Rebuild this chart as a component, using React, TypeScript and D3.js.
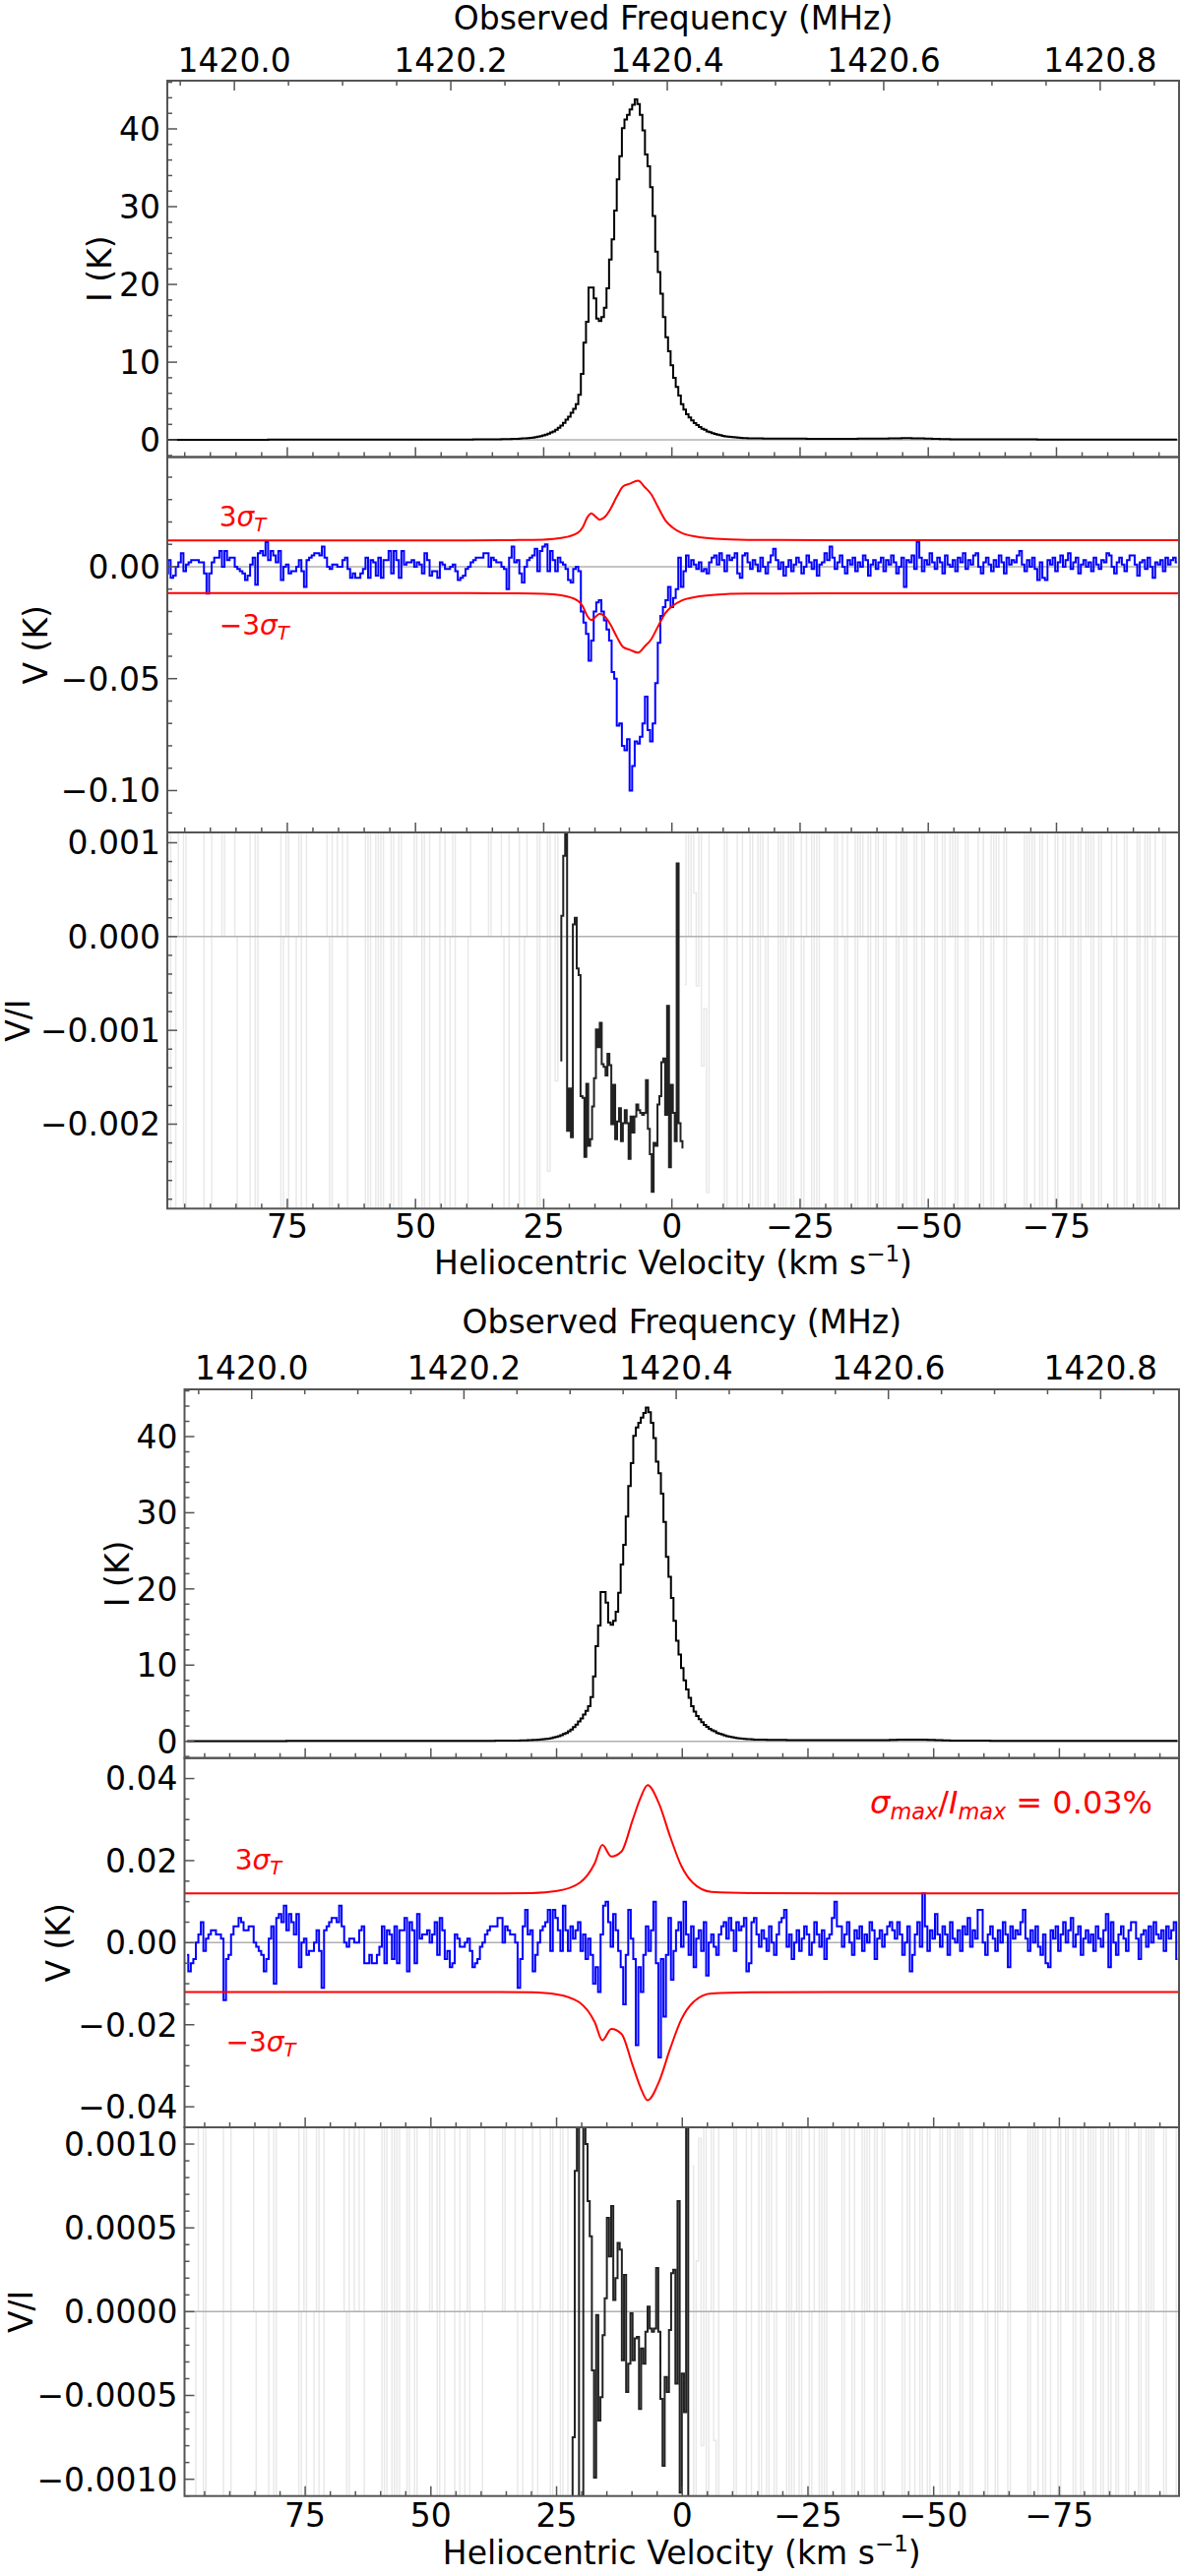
import React from 'react';
import * as d3 from 'd3';

const FONT = '"DejaVu Sans", "Liberation Sans", sans-serif';
const KM_S_PER_MHZ = 211.06; // c / f(HI)

// * Spectral channels (heliocentric velocity, km/s)
const channelStart = 98.5;
const channelWidth = 0.5;

// Stokes I (K) per channel, shared by both observations
const intensity = [
  0.03, 0.03, 0.03, 0.03, 0.03, 0.03, 0.03, 0.03, 0.03, 0.03, 0.03, 0.03, 0.03, 0.03, 0.03, 0.03, 0.03, 0.03, 0.03, 0.03,
  0.03, 0.03, 0.03, 0.03, 0.03, 0.03, 0.03, 0.03, 0.03, 0.03, 0.03, 0.03, 0.03, 0.03, 0.03, 0.03, 0.03, 0.03, 0.03, 0.03,
  0.04, 0.04, 0.04, 0.04, 0.04, 0.04, 0.04, 0.04, 0.04, 0.04, 0.04, 0.04, 0.04, 0.04, 0.04, 0.04, 0.04, 0.04, 0.04, 0.04,
  0.04, 0.04, 0.04, 0.04, 0.04, 0.04, 0.04, 0.04, 0.04, 0.04, 0.04, 0.04, 0.04, 0.04, 0.04, 0.04, 0.04, 0.04, 0.04, 0.04,
  0.05, 0.05, 0.05, 0.05, 0.05, 0.05, 0.05, 0.05, 0.05, 0.05, 0.05, 0.05, 0.05, 0.05, 0.05, 0.05, 0.05, 0.05, 0.05, 0.05,
  0.05, 0.05, 0.05, 0.05, 0.05, 0.05, 0.05, 0.05, 0.05, 0.05, 0.06, 0.06, 0.06, 0.06, 0.06, 0.06, 0.06, 0.06, 0.06, 0.06,
  0.07, 0.07, 0.07, 0.08, 0.08, 0.08, 0.08, 0.08, 0.08, 0.09, 0.09, 0.1, 0.1, 0.11, 0.12, 0.13, 0.14, 0.15, 0.17, 0.19,
  0.21, 0.24, 0.27, 0.31, 0.36, 0.42, 0.5, 0.58, 0.68, 0.8, 0.95, 1.1, 1.3, 1.55, 1.85, 2.2, 2.6, 3.0, 3.5, 4.0,
  4.6, 5.8, 8.5, 12.5, 15.2, 19.6, 19.6, 18.2, 15.6, 15.3, 15.8, 17.0, 19.5, 23.2, 25.8, 29.5, 33.5, 36.5, 40.1, 41.2,
  41.8, 42.5, 43.1, 43.8, 43.2, 41.8, 39.8, 36.7, 35.2, 32.5, 28.8, 24.2, 21.6, 18.8, 15.8, 13.2, 11.4, 9.6, 8.0, 6.8,
  5.7, 4.6, 3.9, 3.3, 2.9, 2.5, 2.15, 1.9, 1.65, 1.45, 1.3, 1.1, 1.0, 0.88, 0.78, 0.68, 0.6, 0.53, 0.47, 0.42,
  0.38, 0.35, 0.32, 0.29, 0.27, 0.25, 0.23, 0.22, 0.21, 0.2, 0.2, 0.19, 0.19, 0.18, 0.18, 0.18, 0.17, 0.17, 0.17, 0.16,
  0.16, 0.16, 0.16, 0.16, 0.16, 0.16, 0.16, 0.16, 0.16, 0.16, 0.15, 0.15, 0.15, 0.15, 0.15, 0.15, 0.15, 0.15, 0.15, 0.15,
  0.15, 0.15, 0.15, 0.15, 0.15, 0.15, 0.15, 0.15, 0.15, 0.15, 0.16, 0.16, 0.16, 0.16, 0.16, 0.16, 0.16, 0.16, 0.16, 0.16,
  0.17, 0.18, 0.19, 0.2, 0.21, 0.22, 0.22, 0.23, 0.23, 0.23, 0.23, 0.22, 0.22, 0.21, 0.2, 0.19, 0.18, 0.17, 0.16, 0.15,
  0.14, 0.13, 0.12, 0.11, 0.1, 0.1, 0.09, 0.09, 0.08, 0.08, 0.08, 0.08, 0.08, 0.08, 0.08, 0.08, 0.08, 0.08, 0.08, 0.08,
  0.07, 0.07, 0.07, 0.07, 0.07, 0.07, 0.07, 0.07, 0.07, 0.07, 0.07, 0.07, 0.07, 0.07, 0.07, 0.07, 0.07, 0.07, 0.07, 0.07,
  0.06, 0.06, 0.06, 0.06, 0.06, 0.06, 0.06, 0.06, 0.06, 0.06, 0.06, 0.06, 0.06, 0.06, 0.06, 0.06, 0.06, 0.06, 0.06, 0.06,
  0.05, 0.05, 0.05, 0.05, 0.05, 0.05, 0.05, 0.05, 0.05, 0.05, 0.05, 0.05, 0.05, 0.05, 0.05, 0.05, 0.05, 0.05, 0.05, 0.05,
  0.05, 0.05, 0.05, 0.05, 0.05, 0.05, 0.05, 0.05, 0.05, 0.05, 0.05, 0.05, 0.05, 0.05, 0.05,
];

// Stokes V (mK) per channel, upper observation
const stokesVTop = [
  -3, 3, -5, -4, 0, 2, 6, -2, 1, 2, 3, 3, 3, 2, 2, -3, -12, -3, 2, 4,
  4, 7, 0, 7, 3, 4, 4, 0, -1, -2, -3, -6, -4, 1, 4, -8, 6, 7, 5, 11,
  3, 7, 5, 2, 7, -6, 0, 1, -3, -2, -2, 0, 3, -2, -9, 3, 4, 5, 6, 6,
  5, 9, 4, 0, -1, 1, 1, 0, 0, 3, 4, -1, -5, -3, -5, -5, -3, -1, 4, -5,
  3, 2, -4, 4, -5, 3, 3, 7, -3, 7, 3, -5, 7, 1, 2, 2, 3, 0, 2, 1,
  -3, 6, 3, -4, -2, -2, -5, 2, 1, -1, -1, 0, 1, -2, -6, -5, -4, -1, 0, 2,
  3, 4, 4, 4, 6, 6, 0, 4, 3, 2, 2, 0, -1, -10, 4, 9, 2, 3, -3, -7,
  0, 3, 4, 5, 8, -2, 7, 9, 10, -2, 7, 3, -2, 4, 2, 1, -1, -6, -7, -1,
  0, -2, -20, -25, -30, -42, -33, -20, -16, -15, -20, -24, -28, -33, -47, -50, -71, -70, -80, -82,
  -77, -100, -89, -78, -79, -76, -70, -58, -73, -78, -70, -52, -34, -22, -18, -15, -9, -18, -14, -10,
  4, -9, -2, 5, 0, 3, 1, -1, 2, -2, -1, -3, 2, 4, 5, 1, 6, 3, -2, 5,
  3, 4, 6, -3, -5, 5, 6, 2, -1, 3, 1, -2, 4, 0, -3, 2, 5, 8, 3, -1,
  2, -4, 0, 3, -2, 1, 4, 2, -3, 0, 5, 2, -1, 3, -4, 1, 2, 6, 3, 9,
  4, -1, 2, 5, 0, -3, 3, 1, 4, -2, 2, 0, 5, 3, -4, 1, 3, -1, 2, 4,
  -2, 3, 1, 5, 2, -3, 0, 4, -9, 3, 2, 5, -1, 11, 4, -2, 3, 1, 6, 2,
  -1, 4, 2, -3, 5, 1, 0, 3, -2, 4, 2, 6, -1, 3, 1, 5, 6, 0, -3, 2,
  4, 1, -2, 3, 0, 5, 2, -3, 4, 1, 3, 2, 5, 7, 1, -2, 3, 0, 4, -1,
  -6, 2, -5, -6, 3, 1, 4, -2, 2, 5, 0, 3, 6, -1, 2, 4, -3, 1, 3, 0,
  2, -2, 4, 1, -1, 3, 2, 6, 5, 0, -3, 2, 4, 1, -2, 3, 5, 5, 1, -4,
  2, 3, -1, 4, 0, -5, 2, 1, 3, -2, 4, 1, 3, 4, 2,
];

// Stokes V (mK) per channel, lower observation
const stokesVBottom = [
  -3, -7, -5, -4, 0, 2, 5, -2, 1, 2, 3, 3, 2, 2, 1, -14, -4, -3, 2, 4,
  4, 6, 5, 3, 3, 4, 4, 0, -1, -2, -3, -7, -4, 1, 4, -10, 6, 7, 5, 9,
  3, 7, 5, 2, 7, -6, 0, 1, -3, -2, -2, 0, 3, -2, -11, 3, 4, 5, 6, 6,
  5, 9, 4, 0, -1, 1, 1, 0, 0, 3, 4, -5, -5, -3, -5, -5, -3, -1, 4, -5,
  3, 2, -4, 4, -5, 3, 3, 6, -7, 5, 3, -5, 7, 1, 2, 2, 3, 0, 2, 5,
  -3, 6, 3, -4, -2, -6, -5, 2, 1, -1, -1, 0, 1, -2, -6, -5, -4, -1, 0, 2,
  3, 4, 4, 4, 6, 6, 0, 4, 3, 2, 2, 0, -11, -4, 4, 8, 2, 3, -7, -3,
  0, 3, 4, 5, 8, -2, 8, 6, 3, -2, 9, 3, -2, 4, 1, 3, 5, -2, 2, -4,
  1, -3, -10, -6, -12, 2, 9, 10, 5, -1, 7, 3, -2, -6, -15, -3, 8, 1, -4, -25,
  -6, -12, -3, 4, -2, 3, 10, -5, -28, -4, -18, -3, 6, -9, -2, 3, 5, -1, 10, 2,
  -3, 4, -6, 1, 3, -2, 5, -8, 0, 2, -1, -3, 2, 4, 5, 1, 6, 3, -2, 5,
  3, 4, 6, -7, -5, 5, 6, 2, -1, 3, 1, -2, 4, 0, -3, 2, 5, 6, 8, -1,
  2, -4, 0, 3, -2, 1, 4, 2, -3, 0, 5, 2, -1, 3, -4, 1, 2, 6, 10, 4,
  4, -1, 2, 5, 0, -3, 3, 1, 4, -2, 2, 0, 5, 3, -4, 1, 3, -1, 2, 4,
  5, 3, 1, 5, 2, -3, 0, 4, -7, -3, 2, 5, -1, 12, 4, -2, 3, 1, 7, 2,
  -1, 4, 2, -3, 5, 1, 0, 3, -2, 4, 2, 6, -1, 3, 1, 8, 8, 0, -3, 2,
  4, 1, -2, 3, 0, 5, 2, -6, 4, 1, 3, 2, 5, 8, 1, -2, 3, 0, 4, -1,
  -3, 2, -5, -6, 3, 1, 4, -2, 2, 5, 0, 3, 6, -1, 2, 4, -3, 1, 3, 0,
  2, -2, 4, 1, -1, 3, 7, -6, 5, 0, -3, 2, 4, 1, -2, 3, 5, 5, 1, -4,
  2, 3, -1, 4, 0, 5, 2, 1, 3, -2, 4, 1, 3, 5, -4,
];

// 3 sigma_T envelope (K), read at these velocities
const sigmaTopVelocity = [98.4, 60, 40, 31.2, 25, 21.6, 18.4, 17.4, 16.5, 15.7, 14.7, 14.1, 13.0, 12.0, 10.7, 9.5, 8.2, 6.6, 5.3, 4.0, 2.8, 1.2, -0.1, -2.0, -4.6, -8.4, -14.8, -30, -60, -98.9];
const sigmaTopValue = [0.0118, 0.0118, 0.0118, 0.0119, 0.0121, 0.0128, 0.0151, 0.0176, 0.022, 0.0238, 0.022, 0.021, 0.0224, 0.0257, 0.0315, 0.0359, 0.0371, 0.0384, 0.0356, 0.0323, 0.0271, 0.0205, 0.0176, 0.015, 0.0135, 0.0125, 0.012, 0.0119, 0.0119, 0.0119];
const sigmaBottomVelocity = [99, 60, 40, 30, 24.9, 20.4, 17.4, 15.9, 14.1, 12.1, 9.9, 8.4, 6.9, 4.6, 2.4, 0.15, -2.1, -5.8, -14.1, -30, -60, -98.8];
const sigmaBottomValue = [0.012, 0.012, 0.012, 0.0121, 0.0126, 0.0146, 0.0194, 0.0238, 0.021, 0.0222, 0.0298, 0.035, 0.0384, 0.0338, 0.0258, 0.0186, 0.0146, 0.0124, 0.0121, 0.012, 0.012, 0.012];

// V/I over the line (units of 1e-4), own channel grid
const ratioTopStart = 21.75;
const ratioTopWidth = 0.375;
const ratioTop = [
  -13.2, 2.2, 8.6, 20, -20.7, -16.2, -21.4, 1.3, 2.0, -3.4, -4.1, -17.0, -17.2, -23.5, -15.7, -22.3, -21.6, -18.1, -15.1, -9.9,
  -11.8, -9.2, -13.6, -13.9, -14.8, -12.5, -13.7, -20.0, -15.8, -21.6, -19.7, -18.3, -21.8, -19.9, -18.5, -19.9, -23.7, -19.2, -20.9, -19.2,
  -17.9, -18.5, -18.8, -19.0, -18.8, -15.3, -20.5, -23.2, -27.2, -22.0, -22.3, -17.9, -17.0, -13.4, -13.0, -19.0, -7.4, -24.6, -15.8, -18.8,
  -21.8, 7.8, -19.9, -21.8, -22.5,
];
const ratioBottomStart = 22.03;
const ratioBottomWidth = 0.426;
const ratioBottom = [
  -20, -7.5, 8.4, 20, -20, -20, 20, 10, 6.6, 4.5, -3.5, -9.9, -0.2, -6.5, -5.1, -1.4, 0.8, 5.6, 3.3, 6.3,
  0.7, 2.0, 4.1, 3.7, -2.9, 2.2, -4.8, -3.1, -0.1, -2.9, -1.6, -1.5, -5.8, -2.2, -3.1, -1.2, 0.3, -1.0, -1.2, -1.0,
  2.6, -1.2, -5.2, -9.2, -3.9, -4.8, -1.1, 2.3, 2.5, -4.3, 6.6, -10.8, -3.7, -6.0, 20, -20,
];

// * Tick values
const velocityTicks = [75, 50, 25, 0, -25, -50, -75];
const frequencyTicks = [1420.0, 1420.2, 1420.4, 1420.6, 1420.8];
const intensityTicks = [0, 10, 20, 30, 40];
const stokesTicksTop = [0, -0.05, -0.1];
const ratioTicksTop = [0.001, 0, -0.001, -0.002];
const stokesTicksBottom = [0.04, 0.02, 0, -0.02, -0.04];
const ratioTicksBottom = [0.001, 0.0005, 0, -0.0005, -0.001];
const limitValue = '0.03%';

const layouts = {
  top: {
    left: 170, right: 1198,
    panels: [82, 464.5, 846, 1228.3],
    velocityDomain: [98.4, -98.9],
    freqCenter: 1420.40426,
    intensityDomain: [-2.2, 46.2],
    stokesDomain: [-0.1187, 0.049],
    ratioDomain: [-0.0029, 0.00111],
    titleY: 30, freqLabelY: 73.3, velLabelY: 1258.3, xTitleY: 1295,
    yLabelX: [101, 36, 18],
    sigmaUpper: [222.7, 535], sigmaLower: [222.7, 645],
    grayCut: [22.0, -2.5],
  },
  bottom: {
    left: 187.5, right: 1198,
    panels: [1412, 1786.7, 2162, 2536.7],
    velocityDomain: [99.0, -98.8],
    freqCenter: 1420.40575,
    intensityDomain: [-2.2, 46.2],
    stokesDomain: [-0.045, 0.045],
    ratioDomain: [-0.0011, 0.0011],
    titleY: 1355, freqLabelY: 1401.7, velLabelY: 2568, xTitleY: 2606,
    yLabelX: [119, 59, 21],
    sigmaUpper: [238.7, 1900], sigmaLower: [229.5, 2085],
    grayCut: [22.5, -2.0],
  },
};

const FRAME = '#555';
const FS = 33;

function minorTicks(domain, step, majors) {
  const lo = Math.min(domain[0], domain[1]);
  const hi = Math.max(domain[0], domain[1]);
  const out = [];
  for (let k = Math.ceil(lo / step - 1e-9); k <= Math.floor(hi / step + 1e-9); k++) {
    const t = k * step;
    if (!majors.some(m => Math.abs(m - t) < step * 1e-3)) out.push(t);
  }
  return out;
}

function SpectrumSet({ id, layout, stokesV, sigmaVelocity, sigmaValue, ratio, ratioStart, ratioWidth,
  stokesTicks, stokesMinor, stokesFormat, ratioTicks, ratioMinor, ratioFormat, showLimit }) {
  const { left, right, panels } = layout;
  const [p0, p1, p2, p3] = panels;

  const x = d3.scaleLinear().domain(layout.velocityDomain).range([left, right]);
  const yI = d3.scaleLinear().domain(layout.intensityDomain).range([p1, p0]);
  const yV = d3.scaleLinear().domain(layout.stokesDomain).range([p2, p1]);
  const yR = d3.scaleLinear().domain(layout.ratioDomain).range([p3, p2]);
  const freqX = f => x((layout.freqCenter - f) * KM_S_PER_MHZ);

  const channels = stokesV.map((_, i) => channelStart - i * channelWidth);
  const stepLine = y => d3.line().x(d => x(d[0])).y(d => y(d[1])).curve(d3.curveStep);
  const smoothLine = y => d3.line().x(d => x(d[0])).y(d => y(d[1])).curve(d3.curveMonotoneX);

  const iPath = stepLine(yI)(channels.map((v, i) => [v, intensity[i]]));
  const vPath = stepLine(yV)(channels.map((v, i) => [v, stokesV[i] * 1e-3]));
  const sigUp = smoothLine(yV)(sigmaVelocity.map((v, i) => [v, sigmaValue[i]]));
  const sigDown = smoothLine(yV)(sigmaVelocity.map((v, i) => [v, -sigmaValue[i]]));
  const ratioPath = stepLine(yR)(ratio.map((r, i) => [ratioStart - i * ratioWidth, r * 1e-4]));

  // V/I outside the line: noise divided by the faint wings, mostly off scale
  const grayAll = channels.map((v, i) => [v, (stokesV[i] * 1e-3) / intensity[i]]);
  const grayLeft = stepLine(yR)(grayAll.filter(d => d[0] >= layout.grayCut[0]));
  const grayRight = stepLine(yR)(grayAll.filter(d => d[0] <= layout.grayCut[1]));

  const velMinor = minorTicks(layout.velocityDomain, 5, velocityTicks);
  const fDomain = layout.velocityDomain.map(v => layout.freqCenter - v / KM_S_PER_MHZ);
  const freqMinor = minorTicks(fDomain, 0.05, frequencyTicks);

  const width = right - left;

  const yAxis = (scale, ticks, minorStep, fmt) => (
    <g>
      {minorTicks(scale.domain(), minorStep, ticks).map(t => (
        <line key={'m' + t} x1={left} x2={left + 5} y1={scale(t)} y2={scale(t)} stroke={FRAME} strokeWidth={1.5} />
      ))}
      {ticks.map(t => (
        <g key={t}>
          <line x1={left} x2={left + 10} y1={scale(t)} y2={scale(t)} stroke={FRAME} strokeWidth={1.5} />
          <text x={left - 7} y={scale(t)} dy="0.36em" textAnchor="end" fontSize={FS}>{fmt(t)}</text>
        </g>
      ))}
    </g>
  );

  const xTicksBottom = yBottom => (
    <g>
      {velMinor.map(t => (
        <line key={'m' + t} x1={x(t)} x2={x(t)} y1={yBottom} y2={yBottom - 5} stroke={FRAME} strokeWidth={1.5} />
      ))}
      {velocityTicks.map(t => (
        <line key={t} x1={x(t)} x2={x(t)} y1={yBottom} y2={yBottom - 10} stroke={FRAME} strokeWidth={1.5} />
      ))}
    </g>
  );

  const clipRect = (name, top, bottom) => (
    <clipPath id={`${id}-${name}`}>
      <rect x={left} y={top} width={width} height={bottom - top} />
    </clipPath>
  );

  const yLabel = (xc, yc, content) => (
    <text transform={`translate(${xc + 12},${yc}) rotate(-90)`} textAnchor="middle" fontSize={FS}>{content}</text>
  );

  return (
    <g fontFamily={FONT} fill="#000">
      <defs>
        {clipRect('i', p0, p1)}
        {clipRect('v', p1, p2)}
        {clipRect('r', p2, p3)}
      </defs>

      {/* Intensity panel */}
      <g clipPath={`url(#${id}-i)`}>
        <line x1={left} x2={right} y1={yI(0)} y2={yI(0)} stroke="#b0b0b0" strokeWidth={1.5} />
        <path d={iPath} fill="none" stroke="#000" strokeWidth={2} />
      </g>

      {/* Stokes V panel */}
      <g clipPath={`url(#${id}-v)`}>
        <line x1={left} x2={right} y1={yV(0)} y2={yV(0)} stroke="#b0b0b0" strokeWidth={1.5} />
        <path d={vPath} fill="none" stroke="#0000ff" strokeWidth={2} />
        <path d={sigUp} fill="none" stroke="#ff0000" strokeWidth={2} />
        <path d={sigDown} fill="none" stroke="#ff0000" strokeWidth={2} />
      </g>

      {/* V/I panel */}
      <g clipPath={`url(#${id}-r)`}>
        <path d={grayLeft} fill="none" stroke="#000" strokeOpacity={0.09} strokeWidth={1.5} />
        <path d={grayRight} fill="none" stroke="#000" strokeOpacity={0.09} strokeWidth={1.5} />
        <line x1={left} x2={right} y1={yR(0)} y2={yR(0)} stroke="#b0b0b0" strokeWidth={1.5} />
        <path d={ratioPath} fill="none" stroke="#222" strokeWidth={2} />
      </g>

      {/* Frames and ticks */}
      {[[p0, p1], [p1, p2], [p2, p3]].map(([t, b], k) => (
        <g key={k}>
          <rect x={left} y={t} width={width} height={b - t} fill="none" stroke={FRAME} strokeWidth={2} />
          {xTicksBottom(b)}
        </g>
      ))}
      {yAxis(yI, intensityTicks, 2, d3.format('d'))}
      {yAxis(yV, stokesTicks, stokesMinor, d3.format(stokesFormat))}
      {yAxis(yR, ratioTicks, ratioMinor, d3.format(ratioFormat))}

      {/* Frequency axis on top */}
      {freqMinor.map(f => (
        <line key={'fm' + f} x1={freqX(f)} x2={freqX(f)} y1={p0} y2={p0 + 5} stroke={FRAME} strokeWidth={1.5} />
      ))}
      {frequencyTicks.map(f => (
        <g key={'f' + f}>
          <line x1={freqX(f)} x2={freqX(f)} y1={p0} y2={p0 + 10} stroke={FRAME} strokeWidth={1.5} />
          <text x={freqX(f)} y={layout.freqLabelY} textAnchor="middle" fontSize={FS}>{d3.format('.1f')(f)}</text>
        </g>
      ))}
      <text x={(left + right) / 2} y={layout.titleY} textAnchor="middle" fontSize={FS}>Observed Frequency (MHz)</text>

      {/* Velocity axis labels */}
      {velocityTicks.map(t => (
        <text key={'vl' + t} x={x(t)} y={layout.velLabelY} textAnchor="middle" fontSize={FS}>{d3.format('d')(t)}</text>
      ))}
      <text x={(left + right) / 2} y={layout.xTitleY} textAnchor="middle" fontSize={FS}>
        Heliocentric Velocity (km s<tspan dy={-13} fontSize={23}>−1</tspan><tspan dy={13}>)</tspan>
      </text>

      {yLabel(layout.yLabelX[0], (p0 + p1) / 2, 'I (K)')}
      {yLabel(layout.yLabelX[1], (p1 + p2) / 2, 'V (K)')}
      {yLabel(layout.yLabelX[2], (p2 + p3) / 2, 'V/I')}

      {/* 3 sigma annotations */}
      <text x={layout.sigmaUpper[0]} y={layout.sigmaUpper[1]} fontSize={28} fill="#ff0000">
        3<tspan fontStyle="italic">σ</tspan><tspan fontStyle="italic" fontSize={19.6} dy={5}>T</tspan>
      </text>
      <text x={layout.sigmaLower[0]} y={layout.sigmaLower[1]} fontSize={28} fill="#ff0000">
        −3<tspan fontStyle="italic">σ</tspan><tspan fontStyle="italic" fontSize={19.6} dy={5}>T</tspan>
      </text>
      {showLimit && (
        <text x={1171} y={1843} textAnchor="end" fontSize={32} fill="#ff0000">
          <tspan fontStyle="italic">σ</tspan>
          <tspan fontStyle="italic" fontSize={22.4} dy={6}>max</tspan>
          <tspan dy={-6}>/</tspan>
          <tspan fontStyle="italic">I</tspan>
          <tspan fontStyle="italic" fontSize={22.4} dy={6}>max</tspan>
          <tspan dy={-6}>{'\u00a0= ' + limitValue}</tspan>
        </text>
      )}
    </g>
  );
}

export default function App() {
  return (
    <svg
      width={1200}
      height={2618}
      style={{ position: 'absolute', left: 0, top: 0, background: '#fff' }}
    >
      <rect x={0} y={0} width={1200} height={2618} fill="#fff" />
      <SpectrumSet
        id="top"
        layout={layouts.top}
        stokesV={stokesVTop}
        sigmaVelocity={sigmaTopVelocity}
        sigmaValue={sigmaTopValue}
        ratio={ratioTop}
        ratioStart={ratioTopStart}
        ratioWidth={ratioTopWidth}
        stokesTicks={stokesTicksTop}
        stokesMinor={0.01}
        stokesFormat=".2f"
        ratioTicks={ratioTicksTop}
        ratioMinor={0.0002}
        ratioFormat=".3f"
        showLimit={false}
      />
      <SpectrumSet
        id="bottom"
        layout={layouts.bottom}
        stokesV={stokesVBottom}
        sigmaVelocity={sigmaBottomVelocity}
        sigmaValue={sigmaBottomValue}
        ratio={ratioBottom}
        ratioStart={ratioBottomStart}
        ratioWidth={ratioBottomWidth}
        stokesTicks={stokesTicksBottom}
        stokesMinor={0.005}
        stokesFormat=".2f"
        ratioTicks={ratioTicksBottom}
        ratioMinor={0.0001}
        ratioFormat=".4f"
        showLimit={true}
      />
    </svg>
  );
}
